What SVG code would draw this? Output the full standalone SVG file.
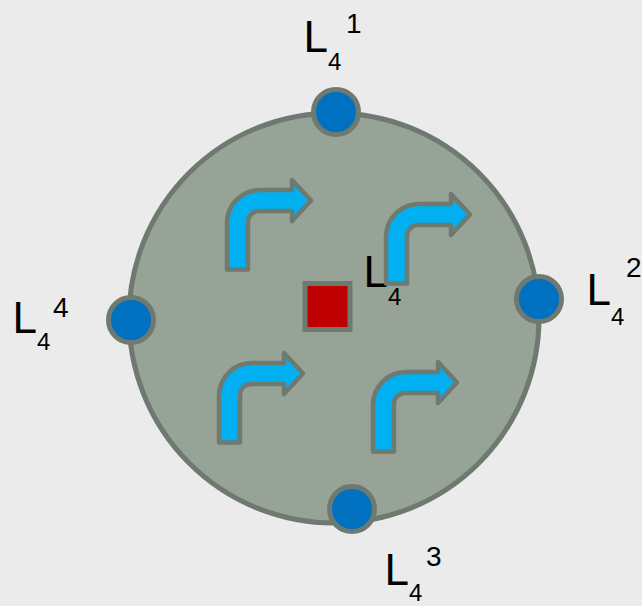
<svg xmlns="http://www.w3.org/2000/svg" width="642" height="606" viewBox="0 0 642 606">
  <defs>
    <style>
      .ring { fill: #97a397; stroke: #6e7a70; stroke-width: 5; }
      .port { fill: #0070c0; stroke: #6e7a70; stroke-width: 5; }
      .core { fill: #c00000; stroke: #6e7a70; stroke-width: 5; }
      .turn { fill: #00b0f0; stroke: #6e7a70; stroke-width: 4.5; stroke-linejoin: round; }
      .lbl { font-family: "Liberation Sans", "DejaVu Sans", sans-serif; fill: #000; }
      .big { font-size: 44px; }
      .sub { font-size: 24px; }
      .sup { font-size: 28px; }
    </style>
    <!-- right-turn arrow, shared by all four -->
    <path id="turnArrow" d="M 227 269.5 L 227 223 A 33 33 0 0 1 260 190 L 292 190 L 292 180 L 311 200.5 L 292 221 L 292 211 L 259 211 A 11 11 0 0 0 248 222 L 248 269.5 Z"/>
  </defs>

  <rect x="0" y="0" width="642" height="606" fill="#ebebeb"/>

  <g id="cell">
    <circle class="ring" cx="334" cy="318" r="205"/>
  </g>

  <g id="center-label">
    <text class="lbl big" x="363.5" y="287">L</text>
    <text class="lbl sub" x="388" y="305">4</text>
  </g>

  <g id="connectors">
    <use href="#turnArrow" class="turn"/>
    <use href="#turnArrow" class="turn" transform="translate(159,14)"/>
    <use href="#turnArrow" class="turn" transform="translate(-8,173)"/>
    <use href="#turnArrow" class="turn" transform="translate(146,182)"/>
  </g>

  <g id="core">
    <rect class="core" x="305" y="283.5" width="45" height="46"/>
  </g>

  <g id="port-1">
    <circle class="port" cx="336" cy="112" r="22.5"/>
    <text class="lbl big" x="303.5" y="52">L</text>
    <text class="lbl sub" x="328" y="70">4</text>
    <text class="lbl sup" x="346" y="33">1</text>
  </g>

  <g id="port-2">
    <circle class="port" cx="539" cy="299" r="22.5"/>
    <text class="lbl big" x="586.5" y="305">L</text>
    <text class="lbl sub" x="611" y="325">4</text>
    <text class="lbl sup" x="626" y="277">2</text>
  </g>

  <g id="port-3">
    <circle class="port" cx="352" cy="509" r="22.5"/>
    <text class="lbl big" x="384.5" y="585">L</text>
    <text class="lbl sub" x="409" y="601">4</text>
    <text class="lbl sup" x="426" y="566">3</text>
  </g>

  <g id="port-4">
    <circle class="port" cx="131" cy="320" r="22.5"/>
    <text class="lbl big" x="12.5" y="333">L</text>
    <text class="lbl sub" x="37" y="350">4</text>
    <text class="lbl sup" x="53" y="317">4</text>
  </g>
</svg>
